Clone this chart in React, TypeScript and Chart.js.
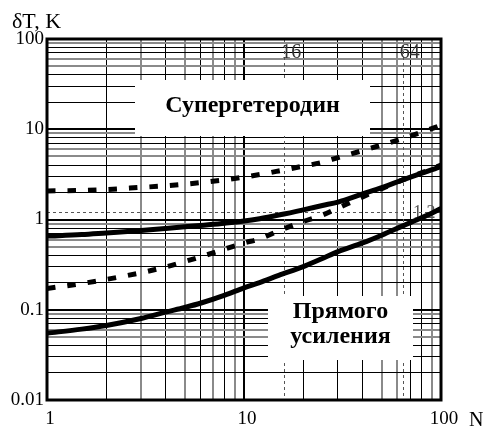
import React, { useEffect, useRef } from 'react';
import { Chart, registerables } from 'chart.js';

Chart.register(...registerables);

// ---- data ----
const N_VALUES = [1, 1.5, 2, 3, 4, 5, 6, 8, 10, 12, 15, 20, 25, 30, 40, 50, 64, 80, 100];
const SUPERHET_DASHED = [2.07, 2.1, 2.15, 2.27, 2.36, 2.46, 2.56, 2.75, 2.95, 3.15, 3.45, 3.9, 4.3, 4.85, 5.8, 6.7, 7.9, 9.3, 11];
const SUPERHET_SOLID = [0.655, 0.68, 0.71, 0.755, 0.795, 0.83, 0.86, 0.91, 0.96, 1.02, 1.12, 1.28, 1.43, 1.56, 1.92, 2.25, 2.75, 3.27, 3.85];
const DIRECT_DASHED = [0.172, 0.195, 0.217, 0.257, 0.298, 0.342, 0.385, 0.47, 0.55, 0.61, 0.75, 0.95, 1.12, 1.34, 1.78, 2.2, 2.75, 3.3, 4.0];
const DIRECT_SOLID = [0.055, 0.061, 0.067, 0.08, 0.094, 0.106, 0.118, 0.145, 0.175, 0.2, 0.24, 0.3, 0.37, 0.44, 0.55, 0.67, 0.85, 1.05, 1.32];

const X_TICKS = [1, 2, 3, 4, 5, 6, 7, 8, 9, 10, 20, 30, 40, 50, 60, 70, 80, 90, 100];
const X_MAJOR = [1, 10, 100];
const X_MAJOR_LABELS = ['1', '10', '100'];
const X_GRAY = [3, 5, 7, 9, 50, 60, 90];

const Y_TICKS = [
  0.01, 0.02, 0.03, 0.04, 0.05, 0.06, 0.07, 0.08, 0.09,
  0.1, 0.2, 0.3, 0.4, 0.5, 0.6, 0.7, 0.8, 0.9,
  1, 2, 3, 4, 5, 6, 7, 8, 9,
  10, 20, 30, 40, 50, 60, 70, 80, 90, 100,
];
const Y_MAJOR = [0.01, 0.1, 1, 10, 100];
const Y_MAJOR_LABELS = ['0.01', '0.1', '1', '10', '100'];
const Y_GRAY = [0.05, 0.06, 0.09, 0.5, 0.6, 0.9, 5, 6, 9, 50, 60, 90];

const MARK_N = [16, 64];
const MARK_N_LABELS = ['16', '64'];
const MARK_T = [1.2];
const MARK_T_LABELS = ['1.2'];

const Y_TITLE = 'δT, K';
const X_TITLE = 'N';
const BOX1_LINES = ['Супергетеродин'];
const BOX2_LINES = ['Прямого', 'усиления'];

const SERIF = "'Liberation Serif', 'Times New Roman', serif";

const near = (arr: number[], v: number) => arr.some((a) => Math.abs(a - v) < 1e-9 * Math.max(1, v));

const pts = (ys: number[]) => N_VALUES.map((x, i) => ({ x, y: ys[i] }));

const overlay = {
  id: 'overlay',
  beforeDatasetsDraw(chart: any) {
    const { ctx, chartArea: a, scales } = chart;
    const x = scales.x;
    const y = scales.y;
    ctx.save();
    // dotted reference lines
    ctx.strokeStyle = '#555';
    ctx.lineWidth = 1;
    ctx.setLineDash([3, 3]);
    MARK_N.forEach((n) => {
      const px = Math.round(x.getPixelForValue(n)) + 0.5;
      ctx.beginPath();
      ctx.moveTo(px, a.top);
      ctx.lineTo(px, a.bottom);
      ctx.stroke();
    });
    MARK_T.forEach((t) => {
      const py = Math.round(y.getPixelForValue(t)) + 0.5;
      ctx.beginPath();
      ctx.moveTo(a.left, py);
      ctx.lineTo(a.right, py);
      ctx.stroke();
    });
    ctx.setLineDash([]);

    // marker labels
    ctx.fillStyle = '#333';
    ctx.font = `20px ${SERIF}`;
    ctx.textAlign = 'left';
    ctx.textBaseline = 'alphabetic';
    MARK_N.forEach((n, i) => {
      const px = x.getPixelForValue(n);
      ctx.fillText(MARK_N_LABELS[i], px - 3, a.top + 19);
    });
    ctx.fillStyle = '#555';
    ctx.font = `18px ${SERIF}`;
    MARK_T.forEach((t, i) => {
      const py = y.getPixelForValue(t);
      ctx.fillText(MARK_T_LABELS[i], a.right - 28, py + 6);
    });

    // white label boxes
    ctx.fillStyle = '#fff';
    ctx.fillRect(a.left + 88, a.top + 41, 235, 56);
    ctx.fillRect(a.left + 221, a.top + 257, 145, 64);
    ctx.fillStyle = '#000';
    ctx.font = `bold 24px ${SERIF}`;
    ctx.textAlign = 'center';
    BOX1_LINES.forEach((s, i) => ctx.fillText(s, a.left + 205.5, a.top + 73 + i * 25));
    BOX2_LINES.forEach((s, i) => ctx.fillText(s, a.left + 293.5, a.top + 279 + i * 25));
    ctx.restore();
  },
  afterDatasetsDraw(chart: any) {
    const { ctx, chartArea: a } = chart;
    ctx.save();
    ctx.strokeStyle = '#000';
    ctx.lineWidth = 3;
    ctx.strokeRect(a.left, a.top, a.right - a.left, a.bottom - a.top);
    ctx.restore();
  },
  afterDraw(chart: any) {
    const { ctx, chartArea: a } = chart;
    ctx.save();
    ctx.fillStyle = '#000';
    ctx.textAlign = 'left';
    ctx.textBaseline = 'alphabetic';
    ctx.font = `22px ${SERIF}`;
    ctx.fillText(Y_TITLE, 12, 28);
    ctx.font = `20px ${SERIF}`;
    ctx.fillText(X_TITLE, a.right + 28, a.bottom + 26);
    ctx.restore();
  },
};

export default function App() {
  const ref = useRef<HTMLCanvasElement>(null);
  useEffect(() => {
    const canvas = ref.current;
    if (!canvas) return;
    const lineBase = {
      showLine: true,
      pointRadius: 0,
      borderColor: '#000',
      borderWidth: 5,
      fill: false,
      cubicInterpolationMode: 'monotone' as const,
      borderCapStyle: 'butt' as const,
    };
    const chart = new Chart(canvas, {
      type: 'scatter',
      data: {
        datasets: [
          { ...lineBase, label: 'Супергетеродин (пунктир)', data: pts(SUPERHET_DASHED), borderDash: [8.5, 12] },
          { ...lineBase, label: 'Супергетеродин', data: pts(SUPERHET_SOLID) },
          { ...lineBase, label: 'Прямого усиления (пунктир)', data: pts(DIRECT_DASHED), borderDash: [8.5, 12] },
          { ...lineBase, label: 'Прямого усиления', data: pts(DIRECT_SOLID) },
        ],
      },
      options: {
        responsive: false,
        animation: false,
        devicePixelRatio: 1,
        layout: { padding: { top: 39, right: 47, left: 0, bottom: 0 } },
        plugins: { legend: { display: false }, tooltip: { enabled: false } },
        scales: {
          x: {
            type: 'logarithmic',
            min: 1,
            max: 100,
            afterBuildTicks: (s: any) => {
              s.ticks = X_TICKS.map((v) => ({ value: v }));
            },
            afterFit: (s: any) => {
              s.height = 30;
            },
            ticks: {
              autoSkip: false,
              maxRotation: 0,
              padding: 8,
              labelOffset: 3,
              color: '#000',
              font: { family: SERIF, size: 19 },
              callback: (v: any) => {
                const i = X_MAJOR.findIndex((m) => Math.abs(m - v) < 1e-9);
                return i >= 0 ? X_MAJOR_LABELS[i] : '';
              },
            },
            grid: {
              drawTicks: false,
              color: (c: any) => (near(X_GRAY, c.tick.value) ? '#8a8a8a' : '#000'),
              lineWidth: (c: any) => (near(X_MAJOR, c.tick.value) ? 2 : near(X_GRAY, c.tick.value) ? 2 : 1),
            },
            border: { display: false },
          },
          y: {
            type: 'logarithmic',
            min: 0.01,
            max: 100,
            afterBuildTicks: (s: any) => {
              s.ticks = Y_TICKS.map((v) => ({ value: v }));
            },
            afterFit: (s: any) => {
              s.width = 47;
            },
            ticks: {
              autoSkip: false,
              padding: 3,
              color: '#000',
              font: { family: SERIF, size: 19 },
              callback: (v: any) => {
                const i = Y_MAJOR.findIndex((m) => Math.abs(m - v) < 1e-9 * Math.max(1, m));
                return i >= 0 ? Y_MAJOR_LABELS[i] : '';
              },
            },
            grid: {
              drawTicks: false,
              color: (c: any) => (near(Y_GRAY, c.tick.value) ? '#8a8a8a' : '#000'),
              lineWidth: (c: any) => (near(Y_MAJOR, c.tick.value) ? 2 : near(Y_GRAY, c.tick.value) ? 2 : 1),
            },
            border: { display: false },
          },
        },
      },
      plugins: [overlay],
    });
    return () => chart.destroy();
  }, []);
  return (
    <div style={{ position: 'fixed', left: 0, top: 0, width: 488, height: 430, background: '#fff' }}>
      <canvas ref={ref} width={488} height={430} style={{ display: 'block', width: 488, height: 430 }} />
    </div>
  );
}
